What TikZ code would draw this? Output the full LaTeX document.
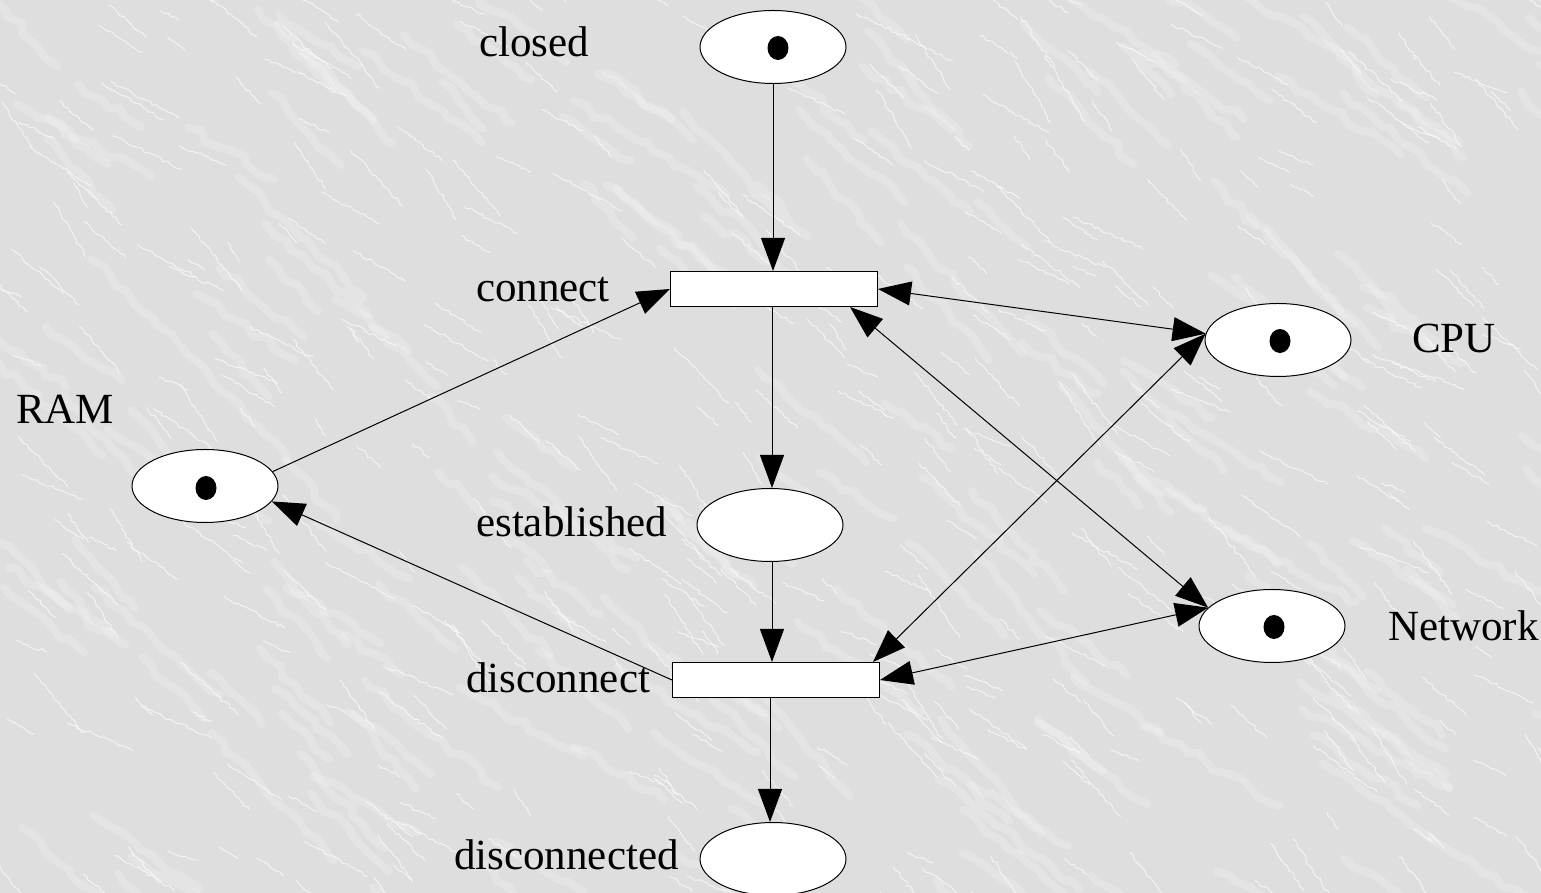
\documentclass[tikz,border=0pt]{standalone}
\usepackage{fontspec}
\setmainfont{Liberation Serif}
\usetikzlibrary{shapes.geometric, arrows.meta, decorations.pathmorphing}

\definecolor{marble}{RGB}{222,222,222}

\tikzset{
  place/.style={ellipse, draw, fill=white, line width=1pt, minimum width=146pt, minimum height=73pt, inner sep=0pt},
  trans/.style={rectangle, draw, fill=white, line width=1pt, minimum width=207pt, minimum height=35pt, inner sep=0pt},
  token/.style={ellipse, fill=black, minimum width=21pt, minimum height=24pt, inner sep=0pt},
  arc/.style={line width=1pt, -{Triangle[length=33pt,width=24pt]}},
  biarc/.style={line width=1pt, {Triangle[length=33pt,width=24pt]}-{Triangle[length=33pt,width=24pt]}},
  lbl/.style={anchor=base west, inner sep=0pt, font=\fontsize{43}{50}\selectfont},
  patch/.style={white, opacity=0.2, line width=8pt, line cap=round, decorate, decoration={random steps, segment length=12pt, amplitude=4pt}},
  vein/.style={white, opacity=0.65, line width=1pt, decorate, decoration={random steps, segment length=4pt, amplitude=1.5pt}}
}

\begin{document}
\begin{tikzpicture}[x=1pt, y=1pt]
  \clip (0,0) rectangle (1541,893);
  \fill[marble] (0,0) rectangle (1541,893);
  % marble background
  \pgfmathsetseed{11}
  \foreach \i in {1,...,200}{
    \pgfmathsetmacro\sx{rnd*1600-30}
    \pgfmathsetmacro\sy{rnd*950-30}
    \pgfmathsetmacro\len{60+rnd*120}
    \pgfmathsetmacro\ang{-28-rnd*22}
    \draw[patch] (\sx,\sy) -- ++(\ang:\len);
  }
  \foreach \i in {1,...,450}{
    \pgfmathsetmacro\sx{rnd*1600-30}
    \pgfmathsetmacro\sy{rnd*950-30}
    \pgfmathsetmacro\len{20+rnd*60}
    \pgfmathsetmacro\ang{-20-rnd*40}
    \draw[vein] (\sx,\sy) -- ++(\ang:\len);
  }

  % places
  \node[place] (closed) at (773,846) {};
  \node[place] (established) at (770,368) {};
  \node[place] (disconnected) at (773,34) {};
  \node[place] (RAM) at (205,407) {};
  \node[place] (CPU) at (1278,553) {};
  \node[place] (Network) at (1272,267) {};

  % transitions
  \node[trans] (connect) at (774,604) {};
  \node[trans] (disconnect) at (776,213) {};

  % tokens
  \node[token] (closedtok) at (778,845) {};
  \node[token] (RAMtok) at (206,405) {};
  \node[token] (CPUtok) at (1280,552) {};
  \node[token] (Networktok) at (1274,266) {};

  % labels
  \node[lbl] (closedlbl) at (479,836) {closed};
  \node[lbl] (connectlbl) at (476,591) {connect};
  \node[lbl] (RAMlbl) at (16,469) {RAM};
  \node[lbl] (establishedlbl) at (476,356) {established};
  \node[lbl] (disconnectlbl) at (466,200) {disconnect};
  \node[lbl] (disconnectedlbl) at (454,23) {disconnected};
  \node[lbl] (CPUlbl) at (1412,540) {CPU};
  \node[lbl] (Networklbl) at (1388,252) {Network};

  % arcs
  \draw[arc] (closed.south) -- (closed.south |- connect.north);
  \draw[arc] ([xshift=-2pt]connect.south) -- ([xshift=-2pt]connect.south |- established.north);
  \draw[arc] ([xshift=2pt]established.south) -- ([xshift=2pt]established.south |- disconnect.north);
  \draw[arc] ([xshift=-6pt]disconnect.south) -- ([xshift=-6pt]disconnect.south |- disconnected.north);
  \draw[arc] (RAM.12) -- (connect.west);
  \draw[arc] (disconnect.west) -- (RAM.-13);
  \draw[biarc] (connect.east) -- (CPU.175);
  \draw[biarc] ([xshift=-28pt]connect.south east) -- (Network.164);
  \draw[biarc] ([xshift=-7pt]disconnect.north east) -- (CPU.175);
  \draw[biarc] (disconnect.east) -- (Network.164);
\end{tikzpicture}
\end{document}
